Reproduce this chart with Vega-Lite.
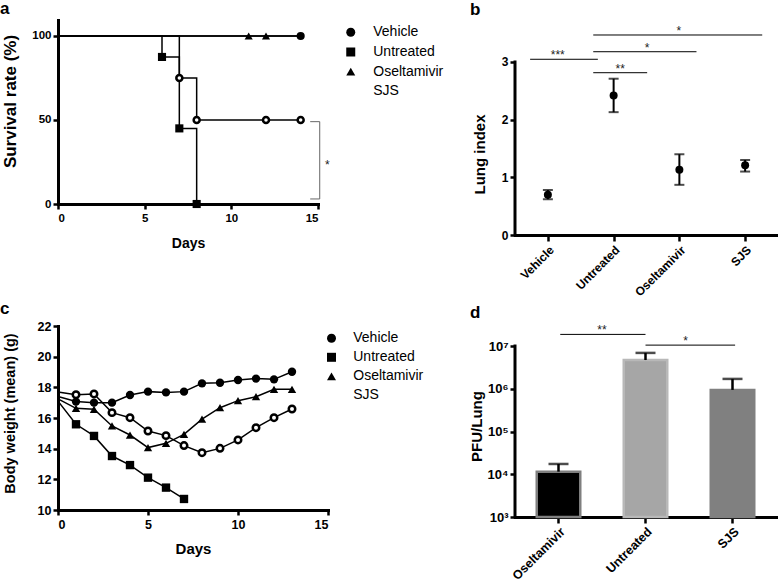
{
  "$schema": "https://vega.github.io/schema/vega-lite/v6.json",
  "background": "white",
  "padding": {"left": 0, "top": 0, "right": 0, "bottom": 0},
  "columns": 2,
  "align": "each",
  "bounds": "flush",
  "spacing": {"row": 91, "column": 187},
  "resolve": {
    "scale": {"shape": "independent", "fill": "independent", "stroke": "independent", "color": "independent"},
    "legend": {"shape": "independent", "fill": "independent", "stroke": "independent", "color": "independent"}
  },
  "datasets": {
    "surv_line": [
      {"group": "Vehicle", "day": 0, "pct": 100}, {"group": "Vehicle", "day": 14, "pct": 100},
      {"group": "Untreated", "day": 0, "pct": 100}, {"group": "Untreated", "day": 6, "pct": 87.5}, {"group": "Untreated", "day": 7, "pct": 45}, {"group": "Untreated", "day": 8, "pct": 0},
      {"group": "Oseltamivir", "day": 0, "pct": 100}, {"group": "Oseltamivir", "day": 14, "pct": 100},
      {"group": "SJS", "day": 0, "pct": 100}, {"group": "SJS", "day": 7, "pct": 75}, {"group": "SJS", "day": 8, "pct": 50}, {"group": "SJS", "day": 14, "pct": 50}
    ],
    "surv_mark": [
      {"group": "Vehicle", "day": 14, "pct": 100},
      {"group": "Untreated", "day": 6, "pct": 87.5}, {"group": "Untreated", "day": 7, "pct": 45}, {"group": "Untreated", "day": 8, "pct": 0},
      {"group": "Oseltamivir", "day": 11, "pct": 100}, {"group": "Oseltamivir", "day": 12, "pct": 100},
      {"group": "SJS", "day": 7, "pct": 75}, {"group": "SJS", "day": 8, "pct": 50}, {"group": "SJS", "day": 12, "pct": 50}, {"group": "SJS", "day": 14, "pct": 50}
    ],
    "surv_bracket": [
      {"o": 1, "x": 14.55, "y": 49}, {"o": 2, "x": 15.1, "y": 49}, {"o": 3, "x": 15.1, "y": 3}, {"o": 4, "x": 14.55, "y": 3}
    ],
    "surv_star": [{"x": 15.54, "y": 20.8, "label": "*"}],
    "weight": [
      {"group": "Vehicle", "day": 0, "w": 17.4}, {"group": "Vehicle", "day": 1, "w": 17.07}, {"group": "Vehicle", "day": 2, "w": 17.0}, {"group": "Vehicle", "day": 3, "w": 17.0}, {"group": "Vehicle", "day": 4, "w": 17.5}, {"group": "Vehicle", "day": 5, "w": 17.72}, {"group": "Vehicle", "day": 6, "w": 17.67}, {"group": "Vehicle", "day": 7, "w": 17.72}, {"group": "Vehicle", "day": 8, "w": 18.26}, {"group": "Vehicle", "day": 9, "w": 18.3}, {"group": "Vehicle", "day": 10, "w": 18.48}, {"group": "Vehicle", "day": 11, "w": 18.57}, {"group": "Vehicle", "day": 12, "w": 18.52}, {"group": "Vehicle", "day": 13, "w": 19.02},
      {"group": "Untreated", "day": 0, "w": 17.1}, {"group": "Untreated", "day": 1, "w": 15.59}, {"group": "Untreated", "day": 2, "w": 14.83}, {"group": "Untreated", "day": 3, "w": 13.52}, {"group": "Untreated", "day": 4, "w": 12.93}, {"group": "Untreated", "day": 5, "w": 12.11}, {"group": "Untreated", "day": 6, "w": 11.46}, {"group": "Untreated", "day": 7, "w": 10.72},
      {"group": "Oseltamivir", "day": 0, "w": 17.25}, {"group": "Oseltamivir", "day": 1, "w": 16.63}, {"group": "Oseltamivir", "day": 2, "w": 16.57}, {"group": "Oseltamivir", "day": 3, "w": 15.48}, {"group": "Oseltamivir", "day": 4, "w": 14.89}, {"group": "Oseltamivir", "day": 5, "w": 14.07}, {"group": "Oseltamivir", "day": 6, "w": 14.35}, {"group": "Oseltamivir", "day": 7, "w": 14.93}, {"group": "Oseltamivir", "day": 8, "w": 15.93}, {"group": "Oseltamivir", "day": 9, "w": 16.67}, {"group": "Oseltamivir", "day": 10, "w": 17.13}, {"group": "Oseltamivir", "day": 11, "w": 17.39}, {"group": "Oseltamivir", "day": 12, "w": 17.87}, {"group": "Oseltamivir", "day": 13, "w": 17.87},
      {"group": "SJS", "day": 0, "w": 17.7}, {"group": "SJS", "day": 1, "w": 17.52}, {"group": "SJS", "day": 2, "w": 17.57}, {"group": "SJS", "day": 3, "w": 16.35}, {"group": "SJS", "day": 4, "w": 16.02}, {"group": "SJS", "day": 5, "w": 15.15}, {"group": "SJS", "day": 6, "w": 14.85}, {"group": "SJS", "day": 7, "w": 14.2}, {"group": "SJS", "day": 8, "w": 13.74}, {"group": "SJS", "day": 9, "w": 14.02}, {"group": "SJS", "day": 10, "w": 14.57}, {"group": "SJS", "day": 11, "w": 15.37}, {"group": "SJS", "day": 12, "w": 16.02}, {"group": "SJS", "day": 13, "w": 16.59}
    ],
    "lung": [
      {"g": "Vehicle", "m": 0.70, "lo": 0.62, "hi": 0.78},
      {"g": "Untreated", "m": 2.42, "lo": 2.13, "hi": 2.71},
      {"g": "Oseltamivir", "m": 1.13, "lo": 0.87, "hi": 1.40},
      {"g": "SJS", "m": 1.21, "lo": 1.10, "hi": 1.30}
    ],
    "lung_sig": [
      {"x1": 0.23, "x2": 1.26, "y": 3.047, "xm": 0.65, "label": "***"},
      {"x1": 1.19, "x2": 2.01, "y": 2.814, "xm": 1.6, "label": "**"},
      {"x1": 1.19, "x2": 2.76, "y": 3.178, "xm": 2.01, "label": "*"},
      {"x1": 1.19, "x2": 3.76, "y": 3.468, "xm": 2.49, "label": "*"}
    ],
    "pfu": [
      {"g": "Oseltamivir", "m": 11500, "hi": 17400},
      {"g": "Untreated", "m": 4700000, "hi": 6900000},
      {"g": "SJS", "m": 940000, "hi": 1700000}
    ],
    "pfu_sig": [
      {"x1": 0.52, "x2": 1.5, "y": 18700000, "xm": 1.0, "label": "**"},
      {"x1": 1.5, "x2": 2.53, "y": 10500000, "xm": 1.96, "label": "*"}
    ]
  },
  "concat": [
    {
      "width": 260,
      "height": 184,
      "title": {"text": "a", "anchor": "start", "frame": "group", "dx": -58, "dy": 11, "offset": 0, "fontSize": 17, "fontWeight": "bold", "baseline": "alphabetic", "color": "black"},
      "layer": [
        {
          "data": {"name": "surv_line"},
          "mark": {"type": "line", "interpolate": "step-after", "color": "black", "strokeWidth": 1.5},
          "encoding": {
            "x": {"field": "day", "type": "quantitative", "scale": {"domain": [0, 15], "nice": false},
              "axis": {"values": [0, 5, 10, 15], "title": "Days", "titleFontSize": 14, "titleY": 39, "titleBaseline": "middle", "labelFontSize": 11.5, "labelPadding": 3}},
            "y": {"field": "pct", "type": "quantitative", "scale": {"domain": [0, 109.5], "nice": false},
              "axis": {"values": [0, 50, 100], "title": "Survival rate (%)", "titleFontSize": 17, "titleX": -47.5, "titleY": 81, "titleBaseline": "middle", "labelFontSize": 11.5}},
            "detail": {"field": "group"}
          }
        },
        {
          "data": {"name": "surv_mark"},
          "transform": [{"filter": "datum.group !== 'SJS'"}],
          "mark": {"type": "point", "filled": true, "size": 66, "opacity": 1},
          "encoding": {
            "x": {"field": "day", "type": "quantitative"},
            "y": {"field": "pct", "type": "quantitative"},
            "shape": {"field": "group", "type": "nominal", "legend": null,
              "scale": {"domain": ["Vehicle", "Untreated", "Oseltamivir", "SJS"], "range": ["circle", "square", "triangle-up", "circle"]}},
            "color": {"field": "group", "type": "nominal",
              "scale": {"domain": ["Vehicle", "Untreated", "Oseltamivir", "SJS"], "range": ["black", "black", "black", "white"]},
              "legend": {"orient": "none", "legendX": 285.75, "legendY": 5.3, "title": null, "padding": 0, "symbolSize": 81, "rowPadding": 5.7, "labelFontSize": 14, "labelFontWeight": "normal", "labelColor": "black", "labelOffset": 15.5, "labelLimit": 200,
                "encode": {"symbols": {
                  "stroke": {"value": "black"}, "strokeWidth": {"value": {"expr": "datum.value === 'SJS' ? 2.5 : 1"}}}}}}
          }
        },
        {
          "data": {"name": "surv_mark"},
          "transform": [{"filter": "datum.group === 'SJS'"}],
          "mark": {"type": "point", "filled": false, "fill": "white", "stroke": "black", "strokeWidth": 2.5, "size": 36, "opacity": 1},
          "encoding": {
            "x": {"field": "day", "type": "quantitative"},
            "y": {"field": "pct", "type": "quantitative"},
            "shape": {"field": "group", "type": "nominal", "legend": null}
          }
        },
        {
          "data": {"name": "surv_bracket"},
          "mark": {"type": "line", "color": "#666666", "strokeWidth": 1},
          "encoding": {
            "x": {"field": "x", "type": "quantitative"},
            "y": {"field": "y", "type": "quantitative"},
            "order": {"field": "o"}
          }
        },
        {
          "data": {"name": "surv_star"},
          "mark": {"type": "text", "fontSize": 12, "color": "#222222", "baseline": "alphabetic", "align": "center"},
          "encoding": {
            "x": {"field": "x", "type": "quantitative"},
            "y": {"field": "y", "type": "quantitative"},
            "text": {"field": "label"}
          }
        }
      ]
    },
    {
      "width": 263,
      "height": 215,
      "title": {"text": "b", "anchor": "start", "frame": "group", "dx": -45, "dy": 12, "offset": 0, "fontSize": 17, "fontWeight": "bold", "baseline": "alphabetic", "color": "black"},
      "layer": [
        {
          "data": {"name": "lung"},
          "encoding": {
            "x": {"field": "g", "type": "nominal", "sort": ["Vehicle", "Untreated", "Oseltamivir", "SJS"], "scale": {"type": "point", "padding": 0.5},
              "axis": {"title": null, "labelAngle": -45, "labelAlign": "right", "labelBaseline": "top", "labelFontSize": 12, "labelPadding": 3, "tickSize": 6}},
            "y": {"type": "quantitative", "scale": {"domain": [0, 3.728], "nice": false}}
          },
          "layer": [
            {"mark": {"type": "rule", "color": "black", "strokeWidth": 2},
             "encoding": {"y": {"field": "lo", "type": "quantitative",
               "axis": {"values": [0, 1, 2, 3], "format": "d", "domain": false, "title": "Lung index", "titleFontSize": 15, "titleX": -36, "titleY": 134, "titleBaseline": "middle", "labelFontSize": 12}},
               "y2": {"field": "hi"}}},
            {"mark": {"type": "tick", "color": "black", "size": 10, "thickness": 2, "orient": "horizontal"},
             "encoding": {"y": {"field": "lo", "type": "quantitative"}}},
            {"mark": {"type": "tick", "color": "black", "size": 10, "thickness": 2, "orient": "horizontal"},
             "encoding": {"y": {"field": "hi", "type": "quantitative"}}},
            {"mark": {"type": "point", "filled": true, "color": "black", "size": 64, "opacity": 1},
             "encoding": {"y": {"field": "m", "type": "quantitative"}}}
          ]
        },
        {
          "layer": [
            {
              "data": {"name": "lung_sig"},
              "mark": {"type": "rule", "color": "black", "strokeWidth": 1},
              "encoding": {
                "x": {"field": "x1", "type": "quantitative", "scale": {"domain": [0, 4], "nice": false}, "axis": null},
                "x2": {"field": "x2"},
                "y": {"field": "y", "type": "quantitative"}
              }
            },
            {
              "data": {"name": "lung_sig"},
              "mark": {"type": "text", "fontSize": 12, "color": "#222222", "baseline": "alphabetic", "align": "center"},
              "encoding": {
                "x": {"field": "xm", "type": "quantitative", "axis": null},
                "y": {"field": "y", "type": "quantitative"},
                "text": {"field": "label"}
              }
            },
            {
              "data": {"values": [{"x": 0, "y0": 0, "y1": 3}]},
              "mark": {"type": "rule", "color": "black", "strokeWidth": 3, "strokeCap": "square"},
              "encoding": {
                "x": {"field": "x", "type": "quantitative", "axis": null},
                "y": {"field": "y0", "type": "quantitative"},
                "y2": {"field": "y1"}
              }
            }
          ]
        }
      ],
      "resolve": {"scale": {"x": "independent"}, "axis": {"x": "independent"}}
    },
    {
      "width": 270,
      "height": 184,
      "title": {"text": "c", "anchor": "start", "frame": "group", "dx": -58, "dy": 11, "offset": 0, "fontSize": 17, "fontWeight": "bold", "baseline": "alphabetic", "color": "black"},
      "data": {"name": "weight"},
      "encoding": {
        "x": {"field": "day", "type": "quantitative", "scale": {"domain": [0, 15], "nice": false},
          "axis": {"values": [0, 5, 10, 15], "title": "Days", "titleFontSize": 15, "titleY": 38, "titleBaseline": "middle", "labelFontSize": 12.5, "labelPadding": 3}},
        "y": {"field": "w", "type": "quantitative", "scale": {"domain": [10, 22], "nice": false},
          "axis": {"values": [10, 12, 14, 16, 18, 20, 22], "title": "Body weight (mean) (g)", "titleFontSize": 14.5, "titleX": -47.5, "titleY": 87, "titleBaseline": "middle", "labelFontSize": 12.5}}
      },
      "layer": [
        {
          "mark": {"type": "line", "color": "black", "strokeWidth": 1.5},
          "encoding": {"detail": {"field": "group"}}
        },
        {
          "transform": [{"filter": "datum.day > 0 && datum.group !== 'SJS'"}],
          "mark": {"type": "point", "filled": true, "size": 70, "opacity": 1},
          "encoding": {
            "shape": {"field": "group", "type": "nominal", "legend": null,
              "scale": {"domain": ["Vehicle", "Untreated", "Oseltamivir", "SJS"], "range": ["circle", "square", "triangle-up", "circle"]}},
            "color": {"field": "group", "type": "nominal",
              "scale": {"domain": ["Vehicle", "Untreated", "Oseltamivir", "SJS"], "range": ["black", "black", "black", "white"]},
              "legend": {"orient": "none", "legendX": 266.5, "legendY": 5.3, "title": null, "padding": 0, "symbolSize": 81, "rowPadding": 5, "labelFontSize": 14, "labelFontWeight": "normal", "labelColor": "black", "labelOffset": 14.75, "labelLimit": 200,
                "encode": {"symbols": {
                  "stroke": {"value": "black"}, "strokeWidth": {"value": {"expr": "datum.value === 'SJS' ? 2.5 : 1"}}}}}}
          }
        },
        {
          "transform": [{"filter": "datum.day > 0 && datum.group === 'SJS'"}],
          "mark": {"type": "point", "filled": false, "fill": "white", "stroke": "black", "strokeWidth": 2.5, "size": 42, "opacity": 1},
          "encoding": {
            "shape": {"field": "group", "type": "nominal", "legend": null}
          }
        }
      ]
    },
    {
      "width": 261,
      "height": 191,
      "title": {"text": "d", "anchor": "start", "frame": "group", "dx": -45, "dy": 11, "offset": 0, "fontSize": 17, "fontWeight": "bold", "baseline": "alphabetic", "color": "black"},
      "layer": [
        {
          "data": {"name": "pfu"},
          "encoding": {
            "x": {"field": "g", "type": "nominal", "sort": ["Oseltamivir", "Untreated", "SJS"], "scale": {"type": "band", "paddingInner": 0.5, "paddingOuter": 0.25},
              "axis": {"title": null, "labelAngle": -45, "labelAlign": "right", "labelBaseline": "top", "labelFontSize": 12.5, "labelPadding": 2, "tickSize": 6}},
            "y": {"type": "quantitative", "scale": {"type": "log", "domain": [1000, 29400000], "nice": false}}
          },
          "layer": [
            {"mark": {"type": "bar", "strokeWidth": 2.5},
             "encoding": {
               "y": {"field": "m", "type": "quantitative",
                 "axis": {"values": [1000, 10000, 100000, 1000000, 10000000], "domain": false, "title": "PFU/Lung", "titleFontSize": 15, "titleX": -39, "titleY": 100, "titleBaseline": "middle", "labelFontSize": 13,
                   "labelExpr": "'10' + (datum.value >= 9e6 ? '⁷' : datum.value >= 9e5 ? '⁶' : datum.value >= 9e4 ? '⁵' : datum.value >= 9e3 ? '⁴' : '³')"}},
               "y2": {"datum": 1000},
               "fill": {"field": "g", "type": "nominal", "scale": {"domain": ["Oseltamivir", "Untreated", "SJS"], "range": ["#000000", "#a6a6a6", "#808080"]}, "legend": null},
               "stroke": {"field": "g", "type": "nominal", "scale": {"domain": ["Oseltamivir", "Untreated", "SJS"], "range": ["#7f7f7f", "#b8b8b8", "#808080"]}, "legend": null}
             }},
            {"mark": {"type": "rule", "color": "black", "strokeWidth": 2.5},
             "encoding": {"y": {"field": "m", "type": "quantitative"}, "y2": {"field": "hi"}}},
            {"mark": {"type": "tick", "color": "black", "size": 20, "thickness": 2.5, "orient": "horizontal"},
             "encoding": {"y": {"field": "hi", "type": "quantitative"}}}
          ]
        },
        {
          "layer": [
            {
              "data": {"name": "pfu_sig"},
              "mark": {"type": "rule", "color": "black", "strokeWidth": 1},
              "encoding": {
                "x": {"field": "x1", "type": "quantitative", "scale": {"domain": [0, 3], "nice": false}, "axis": null},
                "x2": {"field": "x2"},
                "y": {"field": "y", "type": "quantitative"}
              }
            },
            {
              "data": {"name": "pfu_sig"},
              "mark": {"type": "text", "fontSize": 12, "color": "#222222", "baseline": "alphabetic", "align": "center"},
              "encoding": {
                "x": {"field": "xm", "type": "quantitative", "axis": null},
                "y": {"field": "y", "type": "quantitative"},
                "text": {"field": "label"}
              }
            },
            {
              "data": {"values": [{"x": 0, "y0": 1000, "y1": 10000000}]},
              "mark": {"type": "rule", "color": "black", "strokeWidth": 3, "strokeCap": "square"},
              "encoding": {
                "x": {"field": "x", "type": "quantitative", "axis": null},
                "y": {"field": "y0", "type": "quantitative"},
                "y2": {"field": "y1"}
              }
            }
          ]
        }
      ],
      "resolve": {"scale": {"x": "independent"}, "axis": {"x": "independent"}}
    }
  ],
  "config": {
    "font": "Liberation Sans",
    "view": {"stroke": null},
    "axis": {
      "grid": false,
      "domainColor": "black",
      "domainWidth": 3,
      "domainCap": "square",
      "tickColor": "black",
      "tickWidth": 2.5,
      "tickSize": 5,
      "labelColor": "black",
      "labelFont": "Liberation Sans",
      "labelFontWeight": "bold",
      "labelFontSize": 12,
      "labelPadding": 2,
      "titleColor": "black",
      "titleFont": "Liberation Sans",
      "titleFontWeight": "bold"
    },
    "legend": {"labelFont": "Liberation Sans"},
    "title": {"font": "Liberation Sans"}
  }
}
